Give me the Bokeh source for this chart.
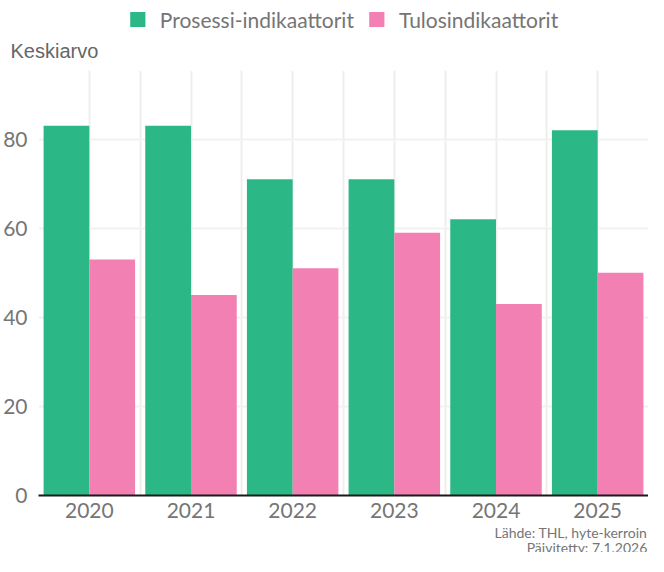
from bokeh.plotting import figure
from bokeh.layouts import column
from bokeh.models import (ColumnDataSource, FactorRange, Legend, LegendItem, Label,
                          FixedTicker, Range1d, Title)
from bokeh.transform import dodge
from bokeh.embed import file_html
from bokeh.resources import INLINE

years = ["2020", "2021", "2022", "2023", "2024", "2025"]
prosessi = [83, 83, 71, 71, 62, 82]
tulos = [53, 45, 51, 59, 43, 50]
series_names = ["Prosessi-indikaattorit", "Tulosindikaattorit"]
y_ticks = [0, 20, 40, 60, 80]
y_title = "Keskiarvo"
source_lines = ["Lähde: THL, hyte-kerroin", "Päivitetty: 7.1.2026"]

GREEN = "#2cb886"
PINK = "#f280b3"
TXT = "#757575"
W = 648
LEFT = 30


def blank(height, bottom=0):
    f = figure(width=W, height=height, x_range=Range1d(0, 1), y_range=Range1d(0, 1),
               x_axis_type=None, y_axis_type=None, output_backend="svg",
               toolbar_location=None, min_border_left=LEFT, min_border_right=0,
               min_border_top=0, min_border_bottom=bottom)
    f.outline_line_color = None
    f.xgrid.visible = False
    f.ygrid.visible = False
    return f


# ---- header: legend (swatches only) + y title ----
top = blank(70, bottom=33)
d1 = top.vbar(x=[0], top=[0], width=0, fill_color=GREEN, line_color=None)
d2 = top.vbar(x=[0], top=[0], width=0, fill_color=PINK, line_color=None)
legend = Legend(items=[LegendItem(label=series_names[0], renderers=[d1]),
                       LegendItem(label=series_names[1], renderers=[d2])],
                orientation="horizontal", location="center",
                label_text_font="Lato", label_text_font_size="21px",
                label_text_color=TXT, glyph_width=19, glyph_height=19,
                label_standoff=13, spacing=13, padding=0, margin=0,
                border_line_color=None, background_fill_alpha=0)
top.add_layout(legend, "center")
top.add_layout(Title(text=y_title, align="left", text_font="Liberation Sans",
                     text_font_size="20px", text_color="#666666",
                     text_font_style="normal", offset=-28, standoff=0), "below")

# ---- main chart ----
src = ColumnDataSource(dict(year=years, prosessi=prosessi, tulos=tulos))

p = figure(x_range=FactorRange(*years, range_padding=0, factor_padding=0),
           y_range=(0, 95.4),
           width=W, height=450,
           output_backend="svg", toolbar_location=None,
           min_border_left=LEFT, min_border_right=0,
           min_border_top=0, min_border_bottom=24)

r1 = p.vbar(x=dodge("year", -0.225, range=p.x_range), top="prosessi", width=0.45,
            source=src, fill_color=GREEN, line_color=None)
r2 = p.vbar(x=dodge("year", 0.225, range=p.x_range), top="tulos", width=0.45,
            source=src, fill_color=PINK, line_color=None)

p.outline_line_color = None

p.xgrid.ticker = FixedTicker(ticks=[i * 0.5 for i in range(13)])
p.xgrid.grid_line_color = "#eeeeee"
p.xgrid.grid_line_width = 2
p.ygrid.grid_line_color = "#f2f2f2"
p.ygrid.grid_line_width = 2

p.yaxis.ticker = FixedTicker(ticks=y_ticks)
p.yaxis.axis_line_color = None
p.yaxis.major_tick_line_color = None
p.yaxis.minor_tick_line_color = None
p.yaxis.major_label_text_font = "Lato"
p.yaxis.major_label_text_font_size = "21px"
p.yaxis.major_label_text_color = TXT
p.yaxis.major_label_standoff = 5

p.xaxis.axis_line_color = "#1a1a1a"
p.xaxis.axis_line_width = 2
p.xaxis.major_tick_line_color = None
p.xaxis.minor_tick_line_color = None
p.xaxis.major_label_text_font = "Lato"
p.xaxis.major_label_text_font_size = "21px"
p.xaxis.major_label_text_color = TXT
p.xaxis.major_label_standoff = 1

# ---- footer ----
foot = blank(32)
for i, line in enumerate(source_lines):
    foot.add_layout(Label(x=0.998, y=20 - 15 * i, x_units="data",
                          y_units="screen", text=line, text_font="Lato",
                          text_font_size="14px", text_color=TXT, text_align="right",
                          text_baseline="alphabetic"))

layout = column(top, p, foot, spacing=0)
open("out.html", "w").write(file_html(layout, INLINE))
